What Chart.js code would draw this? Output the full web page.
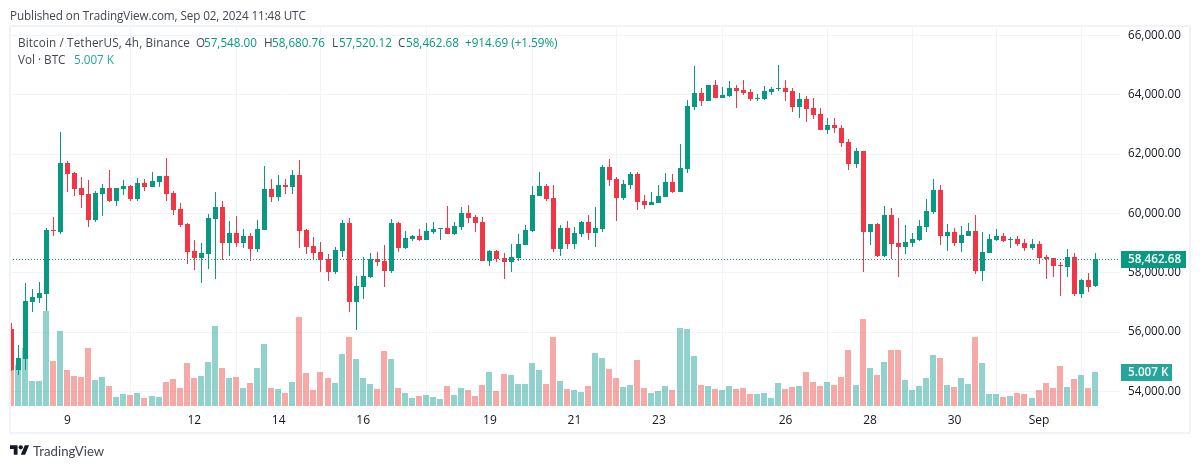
<!DOCTYPE html>
<html><head><meta charset="utf-8">
<style>
html,body{margin:0;padding:0;background:#fff;width:1200px;height:469px;overflow:hidden}
#wrap{position:relative;width:1200px;height:469px;font-family:"Open Sans",sans-serif;color:#131722}
canvas{position:absolute;left:0;top:0}
.t{position:absolute;white-space:nowrap;font-size:11.7px;line-height:14px}
.g{color:#089981}
#frame{position:absolute;left:9px;top:25px;width:1178px;height:405px;border:2px solid #f0f3fa;pointer-events:none}
</style></head><body>
<div id="wrap">
<canvas id="c" width="1200" height="469"></canvas>
<div id="frame"></div>
<div class="t" style="left:10px;top:8px;color:#434651;letter-spacing:-.1px">Published on TradingView.com, Sep 02, 2024 11:48 UTC</div>
<div class="t" style="left:18px;top:35px;color:#434651;letter-spacing:.13px">Bitcoin / TetherUS, 4h, Binance</div>
<div class="t" style="left:196px;top:35px;color:#434651">O</div><div class="t g" style="left:204px;top:35px">57,548.00</div>
<div class="t" style="left:264px;top:35px;color:#434651">H</div><div class="t g" style="left:272px;top:35px">58,680.76</div>
<div class="t" style="left:332px;top:35px;color:#434651">L</div><div class="t g" style="left:339px;top:35px">57,520.12</div>
<div class="t" style="left:398px;top:35px;color:#434651">C</div><div class="t g" style="left:406px;top:35px">58,462.68</div>
<div class="t g" style="left:465px;top:35px">+914.69 (+1.59%)</div>
<div class="t" style="left:18px;top:52px;color:#434651">Vol · BTC</div>
<div class="t" style="left:74px;top:52px;color:#26a69a">5.007 K</div>
<svg style="position:absolute;left:10px;top:443px" width="19.4" height="15.1" viewBox="0 0 36 28"><path fill="#131722" d="M14 22H7V11H0V4h14v18zM28 22h-8l7.5-18h8L28 22z"/><circle fill="#131722" cx="20" cy="8" r="4"/></svg>
<div class="t" style="left:33px;top:444px;font-family:Lato;font-size:13.2px;color:#434651">TradingView</div>
</div>
<script src="https://cdn.jsdelivr.net/npm/chart.js@4"></script>
<script>
const opens=[56107,54727,55097,57015,57150,57285,59439,59372,61694,61358,60853,60651,59776,60651,60853,60415,60819,60920,60482,61021,60886,61055,61257,60684,60146,59641,58732,58497,58631,59809,60213,59001,59338,59001,59237,58800,59439,60819,60550,60954,60886,61290,59439,58900,58698,58463,58025,58732,59675,57015,57520,57857,58463,58396,58059,59675,58833,59136,59237,59102,59372,59473,59506,59304,59540,60011,59877,59708,58396,58732,58497,58362,58497,58934,59405,60584,60920,60516,58799,59506,58968,59304,59708,59338,59473,61560,61156,60516,60954,61324,60415,60280,60348,60550,61055,60718,61492,63579,64050,63781,64320,63882,63949,64219,64151,64084,63848,63848,64084,64185,64219,64118,63579,63848,63545,63344,62805,62973,62872,62401,61660,62098,59372,59641,58564,59944,59001,58867,59001,59102,59540,60045,60785,59237,59372,59001,59237,59405,58059,58665,59102,59237,59102,59136,59001,58833,58968,58530,58496,58261,58193,58530,57285,57756,57548];
const highs=[56309,55568,57655,57453,57689,59506,59877,62738,61762,61391,61223,61122,60752,60987,61459,60860,61122,60954,61189,61156,61391,61257,61862,60752,60348,59675,59102,59001,59978,60718,60415,59742,59910,59473,59338,59776,61593,61156,61290,61156,61459,61795,59473,59203,59035,58631,58867,59776,59843,57891,58530,58665,58698,58934,59809,59708,59405,59271,59473,59675,59708,59506,60247,59708,60213,60281,59944,59877,58766,58766,58665,58968,59304,59607,60920,61391,60987,60954,59607,59742,59540,59742,59944,60213,61627,61829,61223,61122,61391,61391,60617,60718,60954,61358,61324,62334,63815,64959,64219,64320,64488,64252,64454,64320,64488,64185,64017,64286,64252,64993,64488,64219,64050,63949,63882,63545,63209,63209,62973,62502,62199,62098,59641,59675,60247,60179,59843,59607,59338,59776,60482,61156,60954,59641,59506,59574,59675,59944,59372,59304,59473,59338,59203,59237,59136,59136,59069,58597,58496,58362,58799,58665,57790,57992,58680.76];
const lows=[54693,54558,54727,56679,56982,56713,59237,59304,60718,60583,60180,59540,59708,59910,60381,60247,60617,60415,60415,60752,60886,60886,60415,59944,59540,58295,58093,57655,58126,57790,58429,58564,58867,58833,58396,58698,59439,60381,60415,60651,60651,58833,58631,58429,58025,57722,57958,58530,56679,56073,57117,57823,58227,57520,57992,58698,58800,59069,59069,59102,59304,59102,59304,59271,59439,59675,59372,58396,58227,58362,57790,58025,58396,58934,59372,60584,60415,58698,58564,58799,58799,59203,59102,58867,59372,60920,59742,60449,60819,60112,60146,60280,60348,60550,60684,60718,61358,63478,63613,63781,63882,63882,63916,63545,63983,63781,63781,63815,63983,64118,63781,63411,63209,63074,63175,62805,62670,62704,62233,61459,61526,58025,58934,58530,58530,58463,57857,58631,58867,59069,59372,59978,58934,58732,58900,58698,59237,57958,57722,58665,59069,59035,58833,58900,58732,58766,58295,57790,57857,57217,57857,57217,57150,57352,57520.12];
const closes=[54727,55131,57049,57184,57318,59439,59405,61694,61324,60819,60617,59776,60684,60853,60415,60853,60920,60482,61021,60886,61088,61257,60651,60112,59607,58698,58497,58665,59843,60213,59001,59338,59001,59237,58800,59473,60819,60550,60954,60886,61290,59405,58867,58665,58429,58025,58766,59675,57015,57554,57891,58463,58362,58059,59675,58833,59170,59237,59102,59405,59473,59506,59304,59574,60011,59843,59675,58396,58732,58463,58362,58530,58968,59439,60617,60920,60482,58799,59506,58968,59338,59708,59338,59506,61560,61122,60516,60987,61324,60381,60280,60381,60583,61055,60718,61526,63613,64050,63781,64320,63882,63983,64219,64118,64050,63848,63882,64118,64185,64219,64084,63579,63848,63512,63310,62805,62973,62872,62367,61660,62098,59372,59641,58564,59944,58968,58867,59035,59136,59574,60078,60785,59237,59372,59001,59271,59405,58059,58698,59136,59237,59069,59136,58968,58833,58968,58496,58463,58227,58227,58530,57285,57756,57520,58462.68];
const volumes=[11342,6039,8543,3683,3683,13994,6629,11048,5303,4419,4272,8543,3830,4272,2946,1326,1768,1620,1915,1178,1473,1326,3535,3977,2651,6334,4124,4419,6481,11784,5597,4124,4272,2651,3388,5597,9133,2651,2504,1915,3535,13110,4861,2357,5008,4124,3388,7660,10164,6923,4124,3241,2504,8102,6923,2651,1915,1178,1473,1620,1326,1031,2946,1620,2651,2357,1473,3093,5008,2210,4714,4566,3241,3241,6334,5303,3241,10164,3683,2504,2357,2062,2946,7807,7070,5450,4124,2799,3093,6776,2651,1915,2210,2946,2357,11489,11342,7365,3093,2946,2504,2357,2946,2504,2651,1768,1768,1915,1178,3388,2504,2799,2946,5008,3535,2946,3535,3093,4272,8249,3093,12815,5597,4566,6481,8249,8249,3830,2357,2946,4124,7512,7070,3093,2799,4124,3241,10164,6334,1768,1768,1326,1473,1915,1768,1178,2357,3388,2651,5892,2799,3977,4566,2651,5007];
const xTickIndex=[8,26,38,50,68,80,92,110,122,134,146];
const xTickLabels=['9','12','14','16','19','21','23','26','28','30','Sep'];
const yTicks=[54000,56000,58000,60000,62000,64000,66000];
const lastPrice=58462.68, lastVolume=5007;

const UP='#089981',DOWN='#f23645',VUP='rgba(38,166,154,.5)',VDOWN='rgba(239,83,80,.5)';
const isUp=closes.map((c,i)=>c>=opens[i]);
const ds=(arr)=>arr.map((v,i)=>({x:i,y:v}));

const crisp={id:'crisp',afterDatasetsUpdate(ch){
  ch.data.datasets.forEach((d,k)=>{
    ch.getDatasetMeta(k).data.forEach(el=>{
      const fx=Math.floor(el.x);
      el.x=d.kind==='vol'?fx:fx+.5;
      let a=Math.round(el.y),b=Math.round(el.base);
      if(a===b)b=a+1;
      el.y=a;el.base=b;
    });
  });
}};
const overlay={id:'overlay',
 afterDatasetsDraw(ch){
  const {ctx,chartArea:a}=ch,y=Math.round(ch.scales.y.getPixelForValue(lastPrice))+.5;
  ctx.save();ctx.strokeStyle=UP;ctx.lineWidth=1;ctx.setLineDash([1,2]);
  ctx.beginPath();ctx.moveTo(a.left,y);ctx.lineTo(a.right,y);ctx.stroke();ctx.restore();
 },
 afterDraw(ch){
  const {ctx}=ch;
  const py=Math.round(ch.scales.y.getPixelForValue(lastPrice));
  const vy=Math.round(ch.scales.v.getPixelForValue(lastVolume));
  ctx.save();
  ctx.fillStyle=UP;ctx.fillRect(1121,py-8,65,17);
  ctx.fillStyle='#26a69a';ctx.fillRect(1121,vy-8,51,17);
  ctx.fillStyle='#fff';ctx.font='600 11.7px "Open Sans"';ctx.textBaseline='middle';ctx.textAlign='left';
  ctx.fillText(lastPrice.toLocaleString('en-US',{minimumFractionDigits:2}),1128,py+1);
  ctx.fillText('5.007 K',1128,vy+1);
  ctx.restore();
 }};

new Chart(document.getElementById('c'),{
 type:'bar',
 data:{datasets:[
  {kind:'vol',yAxisID:'v',order:3,grouped:false,inflateAmount:0,barThickness:6,data:ds(volumes),backgroundColor:isUp.map(u=>u?VUP:VDOWN)},
  {kind:'wick',yAxisID:'y',order:2,grouped:false,inflateAmount:0,barThickness:1,data:lows.map((l,i)=>({x:i,y:[l,highs[i]]})),backgroundColor:isUp.map(u=>u?UP:DOWN)},
  {kind:'body',yAxisID:'y',order:1,grouped:false,inflateAmount:0,barThickness:5,data:opens.map((o,i)=>({x:i,y:[o,closes[i]]})),backgroundColor:isUp.map(u=>u?UP:DOWN)}
 ]},
 plugins:[crisp,overlay],
 options:{
  responsive:false,animation:false,devicePixelRatio:1,
  layout:{padding:{left:10,top:27,right:0,bottom:0}},
  plugins:{legend:{display:false},tooltip:{enabled:false}},
  scales:{
   x:{type:'linear',min:-0.1705,max:157.5,offset:false,
     afterBuildTicks(s){s.ticks=xTickIndex.map(v=>({value:v}))},
     afterFit(s){s.height=62},
     border:{display:false},
     grid:{color:'#f0f3fa',drawTicks:false},
     ticks:{autoSkip:false,maxRotation:0,padding:6,color:'#131722',font:{family:'"Open Sans"',size:12},
       callback(v){const k=xTickIndex.indexOf(v);return k<0?'':xTickLabels[k]}}},
   y:{position:'right',min:53475,max:66282,
     afterBuildTicks(s){s.ticks=yTicks.map(v=>({value:v}))},
     afterFit(s){s.width=80},
     border:{display:false},
     grid:{color:'#f0f3fa',drawTicks:false},
     ticks:{padding:8,color:'#131722',font:{family:'"Open Sans"',size:11.7},
       callback(v){return v.toLocaleString('en-US',{minimumFractionDigits:2,maximumFractionDigits:2})}}},
   v:{display:false,min:-147,max:55974}
  }
 }
});
</script>
</body></html>
